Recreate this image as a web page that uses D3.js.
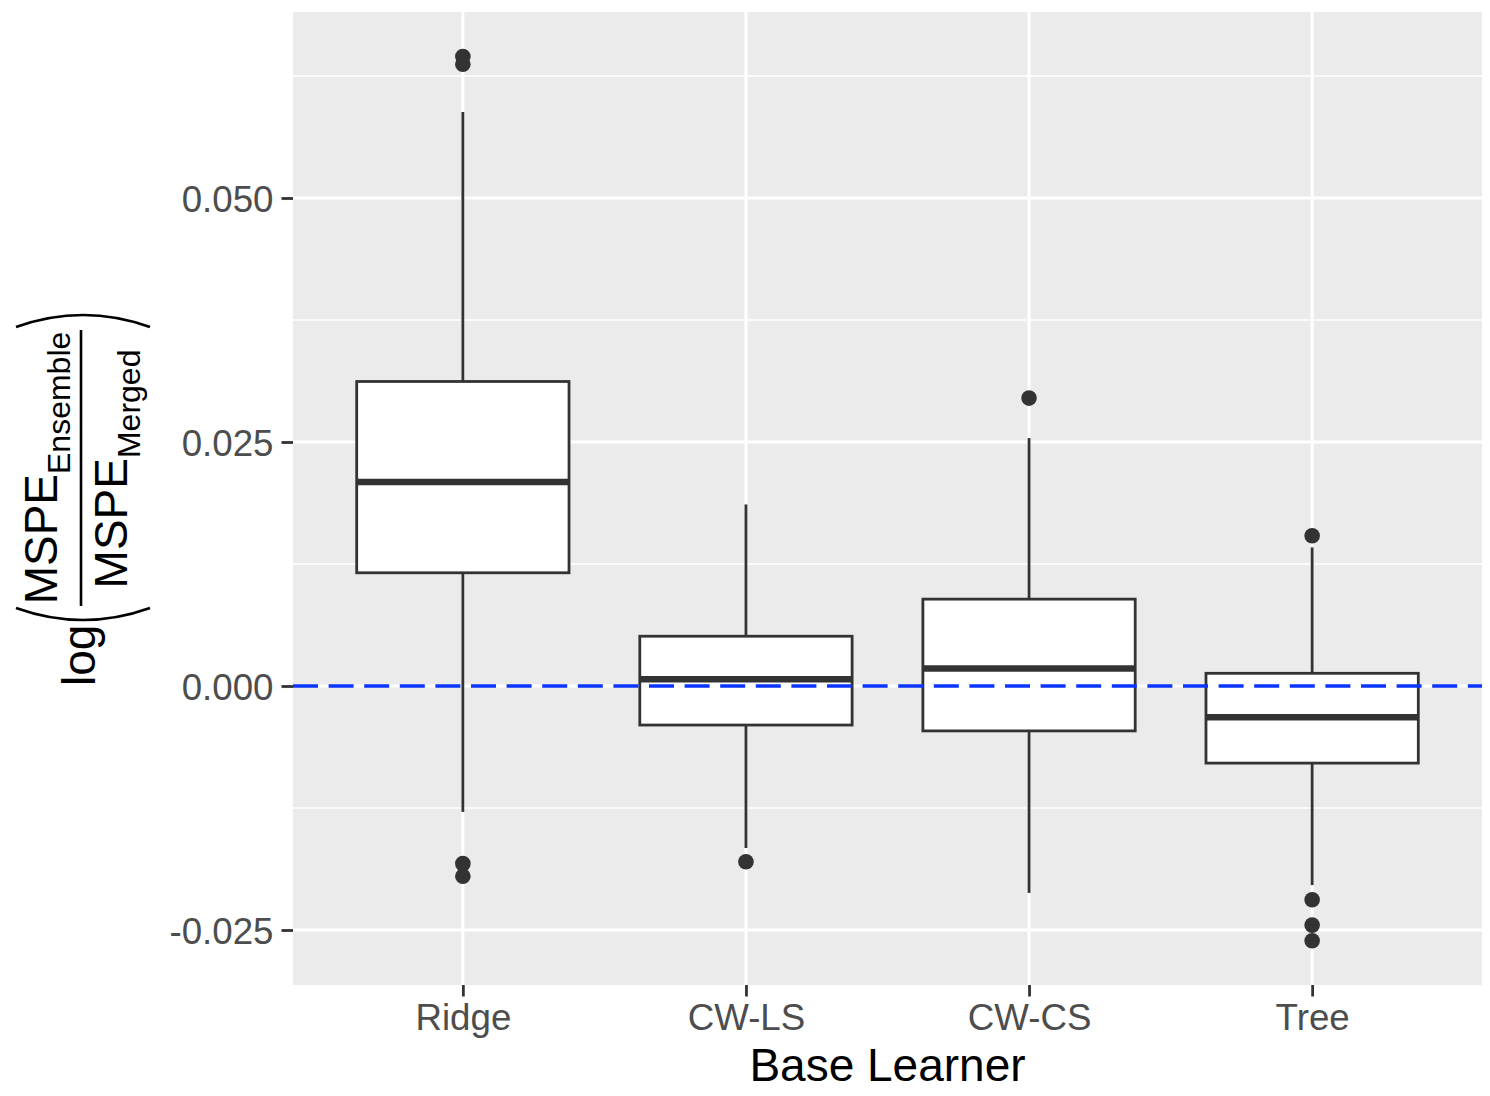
<!DOCTYPE html>
<html>
<head>
<meta charset="utf-8">
<script src="https://cdn.jsdelivr.net/npm/d3@7"></script>
<style>
  body { margin: 0; background: #fff; }
  svg text { font-family: "Liberation Sans", Arial, sans-serif; }
</style>
</head>
<body>
<script>
// box stats
let categories = ["Ridge", "CW-LS", "CW-CS", "Tree"];
let lowerWhisker = [-0.0129, -0.0166, -0.0212, -0.0204];
let q1 = [0.0116, -0.0040, -0.0046, -0.0079];
let median = [0.0209, 0.0007, 0.0018, -0.0032];
let q3 = [0.0312, 0.0051, 0.0089, 0.0013];
let upperWhisker = [0.0588, 0.0186, 0.0254, 0.0142];
let outliers = [
  [0.0645, 0.0637, -0.0182, -0.0195],
  [-0.0180],
  [0.0295],
  [0.0154, -0.0219, -0.0245, -0.0261]
];
let yTicks = [-0.025, 0, 0.025, 0.050];
let yMinor = [-0.0125, 0.0125, 0.0375, 0.0625];
let refLine = 0;

let width = 1490,
    height = 1096,
    pLeft = 293,
    pRight = 1482,
    pTop = 12,
    pBottom = 985;

let svg = d3.select('body')
  .append('svg')
  .attr('width', width)
  .attr('height', height);

let x = d3.scalePoint().domain(categories).range([pLeft, pRight]).padding(0.6);
let y = d3.scaleLinear().domain([-0.030635, 0.069057]).range([pBottom, pTop]);
let boxW = x.step() * 0.75;

// panel + grid
svg.append('rect')
  .attr('x', pLeft).attr('y', pTop)
  .attr('width', pRight - pLeft).attr('height', pBottom - pTop)
  .attr('fill', '#EBEBEB');

svg.selectAll('line.minor')
  .data(yMinor)
  .enter()
  .append('line')
  .attr('class', 'minor')
  .attr('x1', pLeft).attr('x2', pRight)
  .attr('y1', d => y(d)).attr('y2', d => y(d))
  .attr('stroke', '#fff').attr('stroke-width', 1.6);

svg.selectAll('line.majorY')
  .data(yTicks)
  .enter()
  .append('line')
  .attr('class', 'majorY')
  .attr('x1', pLeft).attr('x2', pRight)
  .attr('y1', d => y(d)).attr('y2', d => y(d))
  .attr('stroke', '#fff').attr('stroke-width', 3);

svg.selectAll('line.majorX')
  .data(categories)
  .enter()
  .append('line')
  .attr('class', 'majorX')
  .attr('x1', d => x(d)).attr('x2', d => x(d))
  .attr('y1', pTop).attr('y2', pBottom)
  .attr('stroke', '#fff').attr('stroke-width', 3);

// boxes
let g = svg.selectAll('g.box')
  .data(categories)
  .enter()
  .append('g')
  .attr('class', 'box');

g.append('line')
  .attr('x1', d => x(d)).attr('x2', d => x(d))
  .attr('y1', (d, i) => y(q3[i])).attr('y2', (d, i) => y(upperWhisker[i]))
  .attr('stroke', '#333').attr('stroke-width', 2.8);

g.append('line')
  .attr('x1', d => x(d)).attr('x2', d => x(d))
  .attr('y1', (d, i) => y(q1[i])).attr('y2', (d, i) => y(lowerWhisker[i]))
  .attr('stroke', '#333').attr('stroke-width', 2.8);

g.append('rect')
  .attr('x', d => x(d) - boxW / 2)
  .attr('y', (d, i) => y(q3[i]))
  .attr('width', boxW)
  .attr('height', (d, i) => y(q1[i]) - y(q3[i]))
  .attr('fill', '#fff')
  .attr('stroke', '#333').attr('stroke-width', 2.8);

g.append('line')
  .attr('x1', d => x(d) - boxW / 2).attr('x2', d => x(d) + boxW / 2)
  .attr('y1', (d, i) => y(median[i])).attr('y2', (d, i) => y(median[i]))
  .attr('stroke', '#333').attr('stroke-width', 6.5);

g.selectAll('circle')
  .data((d, i) => outliers[i].map(v => ({cat: d, v: v})))
  .enter()
  .append('circle')
  .attr('cx', d => x(d.cat))
  .attr('cy', d => y(d.v))
  .attr('r', 7.8)
  .attr('fill', '#333');

// reference line
svg.append('line')
  .attr('x1', pLeft).attr('x2', pRight)
  .attr('y1', y(refLine)).attr('y2', y(refLine))
  .attr('stroke', '#0a35ff').attr('stroke-width', 3.5)
  .attr('stroke-dasharray', '25,10.6');

// axes
let axisY = d3.axisLeft(y).tickValues(yTicks).tickFormat(d => d.toFixed(3)).tickSize(11.5).tickPadding(8);
let axisX = d3.axisBottom(x).tickSize(11.5).tickPadding(7.5);

let gy = svg.append('g').attr('transform', `translate(${pLeft},0)`).call(axisY);
let gx = svg.append('g').attr('transform', `translate(0,${pBottom})`).call(axisX);
[gy, gx].forEach(a => {
  a.select('.domain').remove();
  a.selectAll('line').attr('stroke', '#333').attr('stroke-width', 2.8);
  a.selectAll('text').attr('fill', '#4D4D4D').attr('font-size', '36.7px')
    .attr('font-family', '"Liberation Sans", Arial, sans-serif');
});
gy.selectAll('text').attr('dy', '0.36em');

// axis titles
svg.append('text')
  .attr('x', (pLeft + pRight) / 2)
  .attr('y', 1081)
  .attr('text-anchor', 'middle')
  .attr('font-size', '46px')
  .attr('fill', '#000')
  .text('Base Learner');

let yl = svg.append('g').attr('transform', 'translate(0,686) rotate(-90)');
yl.append('text')
  .attr('x', 0).attr('y', 95)
  .attr('font-size', '46px').attr('fill', '#000')
  .text('log');
yl.append('path')
  .attr('d', 'M78,16 Q54,83 78,150')
  .attr('fill', 'none').attr('stroke', '#000').attr('stroke-width', 2.6);
yl.append('path')
  .attr('d', 'M359,16 Q383,83 359,150')
  .attr('fill', 'none').attr('stroke', '#000').attr('stroke-width', 2.6);
yl.append('line')
  .attr('x1', 80).attr('x2', 356).attr('y1', 81).attr('y2', 81)
  .attr('stroke', '#000').attr('stroke-width', 2.6);
let num = yl.append('text')
  .attr('x', 218).attr('y', 57)
  .attr('text-anchor', 'middle')
  .attr('font-size', '46px').attr('fill', '#000');
num.append('tspan').text('MSPE');
num.append('tspan').attr('dy', 13).attr('font-size', '32px').text('Ensemble');
let den = yl.append('text')
  .attr('x', 217).attr('y', 127)
  .attr('text-anchor', 'middle')
  .attr('font-size', '46px').attr('fill', '#000');
den.append('tspan').text('MSPE');
den.append('tspan').attr('dy', 13).attr('font-size', '32px').text('Merged');
</script>
</body>
</html>
